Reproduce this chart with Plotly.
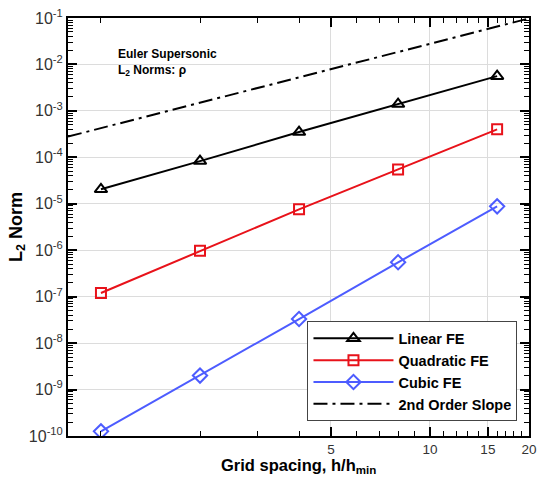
import plotly.graph_objects as go
import numpy as np

h = [1, 2, 4, 8, 16]
linear_fe = [2.05e-5, 8.3e-5, 3.5e-4, 1.4e-3, 5.6e-3]
quadratic_fe = [1.2e-7, 9.7e-7, 7.6e-6, 5.5e-5, 4.0e-4]
cubic_fe = [1.26e-10, 2.0e-9, 3.3e-8, 5.5e-7, 8.8e-6]
slope_x = [0.794, 20]
slope_y = [2.8e-4, 0.098]

x_major = [5, 10, 15, 20]
x_major_text = ["5", "10", "15", "20"]
x_minor = [1, 2, 3, 4, 6, 7, 8, 9, 11, 12, 13, 14, 16, 17, 18, 19]
y_exps = list(range(-10, 0))

font = "Liberation Sans, Arial, sans-serif"

fig = go.Figure()
fig.add_trace(go.Scatter(x=h, y=linear_fe, name="<b>Linear FE</b>", mode="lines+markers",
                         line=dict(color="black", width=2),
                         marker=dict(symbol="triangle-up-open", size=11, color="black", line=dict(width=2))))
fig.add_trace(go.Scatter(x=h, y=quadratic_fe, name="<b>Quadratic FE</b>", mode="lines+markers",
                         line=dict(color="#e8121a", width=2),
                         marker=dict(symbol="square-open", size=10, color="#e8121a", line=dict(width=2))))
fig.add_trace(go.Scatter(x=h, y=cubic_fe, name="<b>Cubic FE</b>", mode="lines+markers",
                         line=dict(color="#4d5cff", width=2),
                         marker=dict(symbol="diamond-open", size=11, color="#4d5cff", line=dict(width=2))))
fig.add_trace(go.Scatter(x=slope_x, y=slope_y, name="<b>2nd Order Slope</b>", mode="lines",
                         line=dict(color="black", width=2, dash="14px,5px,3px,5px")))

yvals = [10.0 ** e for e in y_exps]
ytext = ["10<sup>%d</sup>" % e for e in y_exps]
y_minor = [m * 10.0 ** e for e in range(-10, -1) for m in range(2, 10)]

fig.update_xaxes(type="log", range=[np.log10(0.794), np.log10(20)], automargin=False,
                 tickvals=x_major, ticktext=x_major_text,
                 ticks="inside", ticklen=9, tickwidth=2, tickcolor="black",
                 showline=True, linecolor="black", linewidth=2, mirror="allticks",
                 showgrid=True, gridcolor="#dcdcdc", gridwidth=1,
                 minor=dict(tickvals=x_minor, ticks="inside", ticklen=5, tickwidth=1, tickcolor="black", showgrid=False),
                 tickfont=dict(family=font, size=13.5, color="#333"),
                 zeroline=False)
fig.update_yaxes(type="log", range=[-10, -1], automargin=False,
                 tickvals=yvals, ticktext=ytext,
                 ticks="inside", ticklen=9, tickwidth=2, tickcolor="black",
                 showline=True, linecolor="black", linewidth=2, mirror="allticks",
                 showgrid=True, gridcolor="#dcdcdc", gridwidth=1,
                 minor=dict(tickvals=y_minor, ticks="inside", ticklen=5, tickwidth=1, tickcolor="black", showgrid=False),
                 tickfont=dict(family=font, size=16, color="#333"),
                 title=dict(text="<b>L<sub>2</sub> Norm</b>", font=dict(family=font, size=18, color="black"), standoff=2),
                 zeroline=False)

fig.add_annotation(x=0.5, y=0, xref="paper", yref="paper", xanchor="center", yanchor="top", yshift=-19,
                   text="<b>Grid spacing, h/h<sub>min</sub></b>", showarrow=False, borderpad=0,
                   font=dict(family=font, size=16.5, color="black"))

fig.add_annotation(x=0.105, y=0.935, xref="paper", yref="paper", xanchor="left", yanchor="top",
                   text="<b>Euler Supersonic<br>L<sub>2</sub> Norms: ρ</b>", showarrow=False, align="left",
                   font=dict(family=font, size=12, color="black"))

fig.update_layout(width=539, height=477, margin=dict(l=68, r=10, t=18, b=41),
                  paper_bgcolor="white", plot_bgcolor="white",
                  showlegend=True,
                  legend=dict(x=0.975, y=0.035, xanchor="right", yanchor="bottom",
                              bgcolor="white", bordercolor="#444", borderwidth=1,
                              font=dict(family=font, size=14.5, color="black"),
                              tracegroupgap=0, itemwidth=80))

fig.write_html("out.html")
